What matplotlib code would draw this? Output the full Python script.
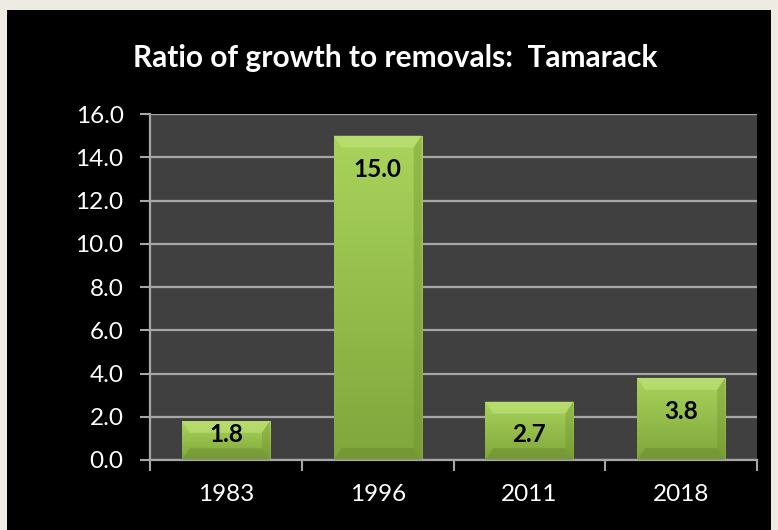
import matplotlib
matplotlib.use("Agg")
import matplotlib.pyplot as plt
import numpy as np
from matplotlib.patches import Rectangle, Polygon

years = ["1983", "1996", "2011", "2018"]
ratios = [1.8, 15.0, 2.7, 3.8]
yticks = [0, 2, 4, 6, 8, 10, 12, 14, 16]

plt.rcParams['font.family'] = ['Lato', 'DejaVu Sans']

fig = plt.figure(figsize=(7.78, 5.30), dpi=100)
fig.patch.set_facecolor("#eeebe2")
# black chart panel
fig.patches.append(Rectangle((7 / 778, 0), 764 / 778, 520 / 530,
                             transform=fig.transFigure, facecolor="black",
                             edgecolor="none", zorder=-5))

ax = fig.add_axes([150 / 778, 70 / 530, 607 / 778, 346 / 530])
ax.set_zorder(2)
ax.set_facecolor("#404040")

x = np.arange(len(years))
width = 0.58
bars = ax.bar(x, ratios, width=width, color="#93c047", edgecolor="none", zorder=2)

# gradient fill + bevel on each bar
grad = np.linspace(0, 1, 256).reshape(-1, 1)
cmap = matplotlib.colors.LinearSegmentedColormap.from_list("g", ["#7fa63b", "#a9d45c"])
for b in bars:
    x0, y0 = b.get_x(), b.get_y()
    w, h = b.get_width(), b.get_height()
    im = ax.imshow(grad, extent=(x0, x0 + w, y0, y0 + h), origin="lower",
                   cmap=cmap, aspect="auto", zorder=2)
    im.set_clip_path(b)
    bx = w * 0.09
    by = min(0.55, h * 0.3)
    ax.add_patch(Polygon([(x0, y0 + h), (x0 + w, y0 + h), (x0 + w - bx, y0 + h - by),
                          (x0 + bx, y0 + h - by)], closed=True,
                         facecolor="#c4e67e", alpha=0.55, edgecolor="none", zorder=3))
    ax.add_patch(Polygon([(x0, y0), (x0 + w, y0), (x0 + w - bx, y0 + by),
                          (x0 + bx, y0 + by)], closed=True,
                         facecolor="#5f7e28", alpha=0.35, edgecolor="none", zorder=3))
    ax.add_patch(Polygon([(x0 + w, y0), (x0 + w, y0 + h), (x0 + w - bx, y0 + h - by),
                          (x0 + w - bx, y0 + by)], closed=True,
                         facecolor="#6a8f2c", alpha=0.35, edgecolor="none", zorder=3))
    # label inside the end, pushed up when the bar is short
    ly = max(y0 + h - 1.55, 1.2)
    ax.text(x0 + w / 2, ly, f"{h:.1f}", ha="center", va="center",
            fontsize=17.5, fontweight="bold", color="black", zorder=4)

ax.set_xlim(-0.5, len(years) - 0.5)
ax.set_ylim(0, 16)
ax.set_yticks(yticks)
ax.set_yticklabels([f"{v:.1f}" for v in yticks])
ax.yaxis.grid(True, color="#a6a6a6", linewidth=1.6, zorder=1)
ax.set_axisbelow(True)

ax.set_xticks(x)
ax.set_xticklabels(years)
ax.set_xticks(np.arange(-0.5, len(years)), minor=True)
ax.tick_params(axis="x", which="major", length=0, pad=17, labelsize=17.5, colors="white")
ax.tick_params(axis="x", which="minor", length=8, width=1.5, color="#a6a6a6")
ax.tick_params(axis="y", length=7, width=1.5, color="#a6a6a6", labelsize=17.5,
               labelcolor="white", pad=12)

for side in ["top", "right"]:
    ax.spines[side].set_visible(False)
for side in ["left", "bottom"]:
    ax.spines[side].set_color("#a6a6a6")
    ax.spines[side].set_linewidth(1.6)

fig.text(395 / 778, 1 - 58 / 530, "Ratio of growth to removals:  Tamarack",
         ha="center", va="center", fontsize=21.5, fontweight="bold", color="white")

fig.savefig("out.png", dpi=100, facecolor=fig.get_facecolor())
